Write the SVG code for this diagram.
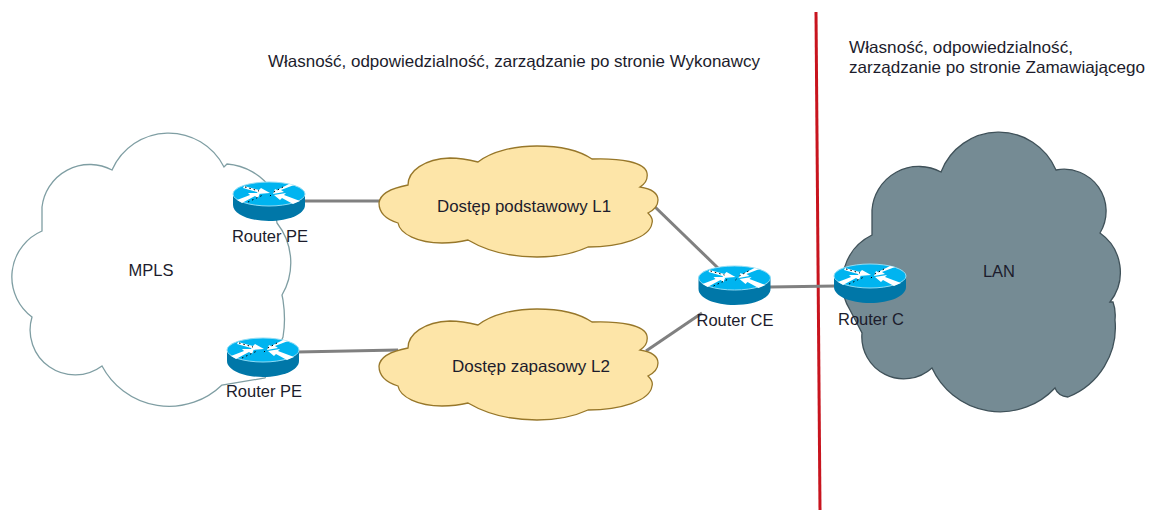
<svg xmlns="http://www.w3.org/2000/svg" width="1153" height="510" viewBox="0 0 1153 510">
<style>
text{font-family:"Liberation Sans",Arial,sans-serif;font-size:16.5px;fill:#1c1c2c}
.mid{text-anchor:middle}
.conn{stroke:#808080;stroke-width:3;fill:none}
</style>
<defs>
<g id="router">
<path d="M0 12V23C0 32 16 39 36 39S72 32 72 23V12Z" fill="#0077a8"/>
<ellipse cx="36" cy="12" rx="36" ry="12" fill="#00b4f0" stroke="#8fdcf5" stroke-width="1"/>
<path d="M11 4L26 8L28 6L37 11L25 12L24 10L10 6ZM4 18L17 13L15 11L27 11L25 16L22 14L9 21ZM61 3L48 8L51 10L40 12L42 7L44 8L56 2ZM67 19L51 13L53 11L41 13L47 18L49 16L60 22Z" fill="#fff"/>
<path d="M12 5L26 9M15 20L30 13M50 5L39 11M38 13L36 15" stroke="#000" stroke-width="1" stroke-dasharray="1.5 3" fill="none"/>
</g>
</defs>
<line x1="816" y1="12" x2="820" y2="510" stroke="#c8141e" stroke-width="3"/>
<g id="connectors">
<line class="conn" x1="303" y1="201" x2="384" y2="201"/>
<line class="conn" x1="297" y1="352" x2="398" y2="350"/>
<line class="conn" x1="653" y1="205" x2="718" y2="268"/>
<line class="conn" x1="646" y1="351" x2="702" y2="313"/>
<line class="conn" x1="770" y1="287" x2="836" y2="286"/>
</g>
<g id="cloud-mpls">
<path d="M112 170A62 62 0 0 1 224 167L227 164A60 60 0 0 1 272 190L277 223A64 64 0 0 1 282 295L283 300Q286 320 283 337L265 378L222 385A76 76 0 0 1 102 366A45 45 0 0 1 32 317A50 50 0 0 1 42 231L42 207A48 48 0 0 1 112 170Z" fill="#fff" stroke="#7f9ea3" stroke-width="1.3"/>
<text class="mid" x="151" y="276">MPLS</text>
</g>
<g id="cloud-l1">
<path d="M478 162C492 151 515 146 537 146C560 146 580 151 592 159C620 158 645 162 647 173C648 179 645 184 640 187C652 189 658 194 658 200C658 206 654 210 648 213C652 217 653 220 652 223C650 238 620 247 588 247C575 253 558 257 537 257C508 257 485 250 468 240C460 242 451 243 442 243C418 243 400 234 398 223C385 219 379 212 379 203C380 194 392 188 408 185C408 171 424 159 450 158C460 158 470 160 478 162Z" fill="#fde5a8" stroke="#97772a" stroke-width="1.3"/>
<text x="437" y="212" textLength="174" lengthAdjust="spacingAndGlyphs">Dostęp podstawowy L1</text>
</g>
<g id="cloud-l2">
<path d="M478 325C492 314 515 309 537 309C560 309 580 314 592 322C620 321 645 325 647 336C648 342 645 347 640 350C652 352 658 357 658 363C658 369 654 373 648 376C652 380 653 383 652 386C650 401 620 410 588 410C575 416 558 420 537 420C508 420 485 413 468 403C460 405 451 406 442 406C418 406 400 397 398 386C385 382 379 375 379 366C380 357 392 351 408 348C408 334 424 322 450 321C460 321 470 323 478 325Z" fill="#fde5a8" stroke="#97772a" stroke-width="1.3"/>
<text x="452" y="372" textLength="158" lengthAdjust="spacingAndGlyphs">Dostęp zapasowy L2</text>
</g>
<g id="cloud-lan">
<path d="M941 172A62 62 0 0 1 1056 170A42 42 0 0 1 1100 233A48 48 0 0 1 1110 302L1113 302Q1116 310 1115 320A75 75 0 0 1 1068 397Q1058 396 1055 388A75 75 0 0 1 932 368A42 42 0 0 1 862 333L850 310A53 53 0 0 1 872 235L872 210A47 47 0 0 1 941 172Z" fill="#758b94" stroke="#3f5159" stroke-width="1.3"/>
<text class="mid" x="999" y="277">LAN</text>
</g>
<g id="router-pe1"><use href="#router" x="233" y="182"/><text class="mid" x="270" y="242">Router PE</text></g>
<g id="router-pe2"><use href="#router" x="227" y="338"/><text class="mid" x="264" y="397">Router PE</text></g>
<g id="router-ce"><use href="#router" x="698.500" y="266"/><text class="mid" x="735" y="326">Router CE</text></g>
<g id="router-c"><use href="#router" x="834" y="264"/><text class="mid" x="871" y="325">Router C</text></g>
<g id="labels">
<text x="268" y="67" textLength="492" lengthAdjust="spacingAndGlyphs">Własność, odpowiedzialność, zarządzanie po stronie Wykonawcy</text>
<text x="849" y="53" textLength="224" lengthAdjust="spacingAndGlyphs">Własność, odpowiedzialność,</text>
<text x="849" y="73" textLength="296" lengthAdjust="spacingAndGlyphs">zarządzanie po stronie Zamawiającego</text>
</g>
</svg>
